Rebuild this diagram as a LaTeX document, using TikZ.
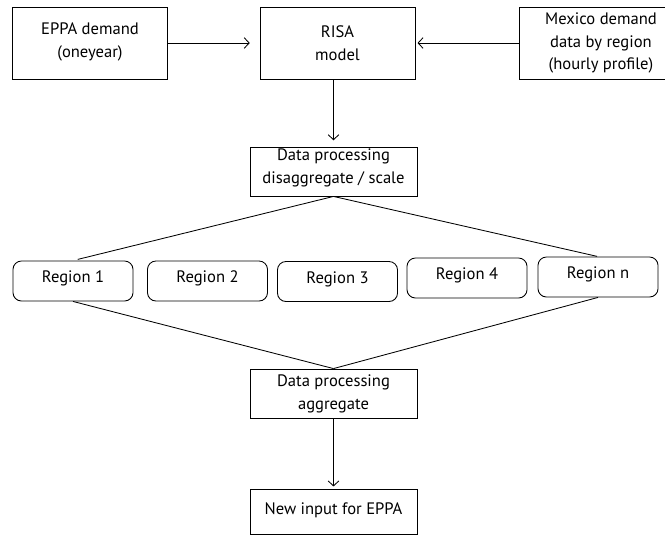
\documentclass[tikz,border=0pt]{standalone}
\usepackage{fontspec}
\setmainfont{PT Sans}
\usetikzlibrary{arrows.meta}

\begin{document}
\begin{tikzpicture}[x=0.025cm, y=-0.025cm, line width=0.6pt,
    >={Straight Barb[length=3.5pt, width=7.5pt]},
    font=\fontsize{11.8}{16.3}\selectfont,
    box/.style 2 args={draw, rectangle, align=center, inner sep=0pt,
        minimum width=#1*0.025cm, minimum height=#2*0.025cm},
    region/.style={draw, rectangle, rounded corners=6pt, inner sep=0pt,
        minimum width=3cm, minimum height=1cm, text depth=6pt}]
    \useasboundingbox (0,0) rectangle (665,535);

    % inputs and model
    \node[box={155}{72}, text depth=4pt] (eppa) at (90,43) {EPPA demand\\(oneyear)};
    \node[box={155}{72}] (risa) at (337.5,43) {RISA\\model};
    \node[box={164}{72}] (mex) at (601,43) {Mexico demand\\data by region\\(hourly profile)};
    \draw[->, shorten >=7pt] (eppa.east) -- (risa.west);
    \draw[->, shorten >=1.5pt] (mex.west) -- (risa.east);

    % disaggregation
    \node[box={167}{49}, text depth=8pt] (dis) at (333.5,171.5) {Data processing\\disaggregate / scale};
    \draw[->, shorten >=4.5pt] (risa.south -| dis.north) -- (dis.north);

    % regions
    \foreach \n/\x/\y/\t in {r1/73/281/Region 1, r2/207.5/281/Region 2, r3/337.5/281.5/Region 3,
                             r4/467/278/Region 4, rn/598/277/Region n} {
        \node[region] (\n) at (\x,\y) {\t};
    }
    \draw[shorten >=3.5pt] (dis.south) -- (r1.north);
    \draw[shorten >=0.7pt] (dis.south) -- (rn.north);

    % aggregation
    \node[box={167}{49}] (agg) at (333.5,393.5) {Data processing\\aggregate};
    \draw (r1.south) -- (agg.north);
    \draw (rn.south) -- (agg.north);

    \node[box={167}{45}, text depth=3.5pt] (new) at (333.5,511.5) {New input for EPPA};
    \draw[->, shorten >=1.5pt] (agg.south) -- (new.north);
\end{tikzpicture}
\end{document}
